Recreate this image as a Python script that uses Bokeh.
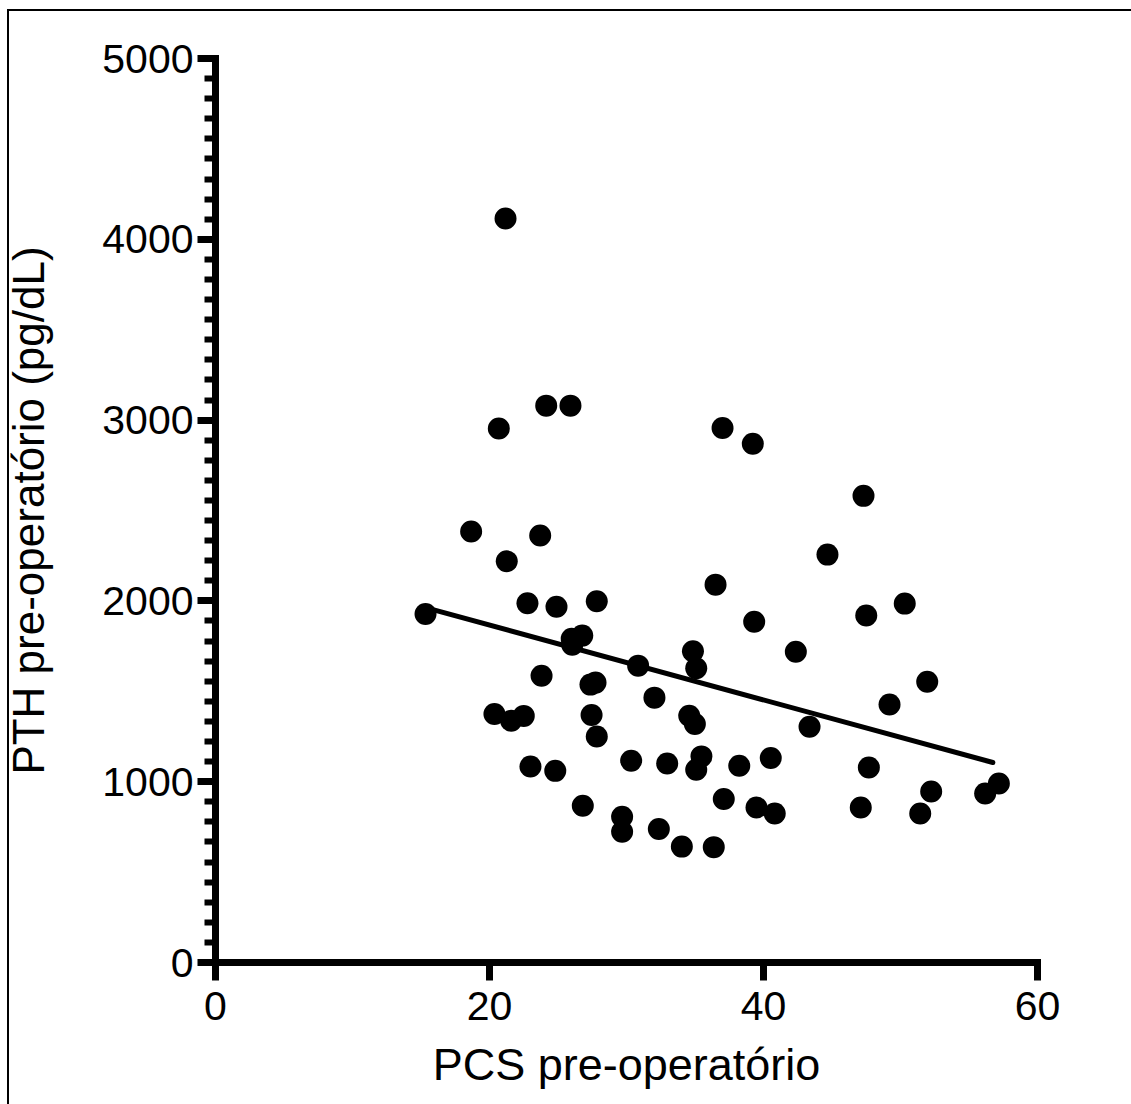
from bokeh.plotting import figure
from bokeh.models import Range1d, FixedTicker, SingleIntervalTicker
from bokeh.embed import file_html
from bokeh.resources import INLINE

# ---- data ----
pcs = [21.17, 24.14, 25.91, 20.68, 37.01, 39.22, 18.66, 23.70, 21.26, 36.50,
       15.33, 22.77, 24.89, 27.83, 39.32, 26.00, 26.77, 26.04, 30.85, 34.85,
       35.09, 23.80, 27.37, 27.74, 32.04, 20.36, 21.58, 22.50, 27.45, 34.58,
       34.99, 27.83, 30.34, 32.97, 35.47, 35.09, 38.23, 40.53, 22.99, 24.80,
       26.81, 37.10, 39.49, 40.82, 29.68, 29.68, 32.36, 34.04, 36.37, 47.30,
       44.67, 47.50, 50.31, 42.36, 51.95, 49.20, 43.36, 47.69, 47.10, 52.24,
       51.44, 56.18, 57.18]
pth = [4115, 3080, 3080, 2954, 2956, 2869, 2384, 2362, 2219, 2090,
       1928, 1987, 1968, 1998, 1885, 1790, 1808, 1758, 1642, 1721,
       1627, 1586, 1537, 1548, 1465, 1374, 1337, 1364, 1369, 1365,
       1319, 1250, 1116, 1101, 1140, 1066, 1088, 1131, 1084, 1060,
       867, 904, 857, 824, 806, 723, 738, 641, 638, 2581,
       2256, 1919, 1985, 1719, 1553, 1427, 1304, 1079, 857, 946,
       824, 935, 990]
fit_x = [15.33, 56.74]
fit_y = [1963, 1106]
x_ticks = [0, 20, 40, 60]
y_ticks = [0, 1000, 2000, 3000, 4000, 5000]
x_label = "PCS pre-operatório"
y_label = "PTH pre-operatório (pg/dL)"

FONT = "Liberation Sans"

p = figure(width=1131, height=1104, output_backend="svg", toolbar_location=None,
           x_range=Range1d(0, 60), y_range=Range1d(0, 5000),
           min_border_left=215, min_border_right=94,
           min_border_top=58, min_border_bottom=142)
# thin outer frame (left and top edges) drawn behind a transparent canvas border
p.styles = {
    "background": ("linear-gradient(#000, #000) 7px 9px / 2px 1095px no-repeat, "
                   "linear-gradient(#000, #000) 7px 9px / 1124px 2px no-repeat, #fff"),
}

p.xgrid.visible = False
p.ygrid.visible = False
p.outline_line_color = None
p.background_fill_color = "white"
p.border_fill_color = None

p.line(fit_x, fit_y, line_color="black", line_width=5, line_cap="round")
p.scatter(pcs, pth, size=22, fill_color="black", line_color="black", line_width=0)

for ax in (p.xaxis[0], p.yaxis[0]):
    ax.axis_line_width = 7
    ax.axis_line_color = "black"
    ax.axis_line_cap = "square"
    ax.major_tick_line_width = 7
    ax.major_tick_line_color = "black"
    ax.major_tick_out = 18
    ax.major_tick_in = 0
    ax.major_label_text_font = FONT
    ax.major_label_text_font_size = "41px"
    ax.major_label_text_color = "black"
    ax.axis_label_text_font = FONT
    ax.axis_label_text_font_size = "44px"
    ax.axis_label_text_font_style = "normal"
    ax.axis_label_text_color = "black"

xa = p.xaxis[0]
xa.ticker = FixedTicker(ticks=x_ticks)
xa.minor_tick_line_color = None
xa.axis_label = x_label
xa.axis_label_text_font_size = "45px"
xa.major_label_standoff = 11
xa.axis_label_standoff = 16

ya = p.yaxis[0]
ya.ticker = SingleIntervalTicker(interval=1000, num_minor_ticks=9)
ya.minor_tick_line_width = 6
ya.minor_tick_line_color = "black"
ya.minor_tick_out = 11
ya.minor_tick_in = 0
ya.axis_label = y_label
ya.major_label_standoff = 4
ya.axis_label_standoff = 46

open("out.html", "w").write(file_html(p, INLINE))
